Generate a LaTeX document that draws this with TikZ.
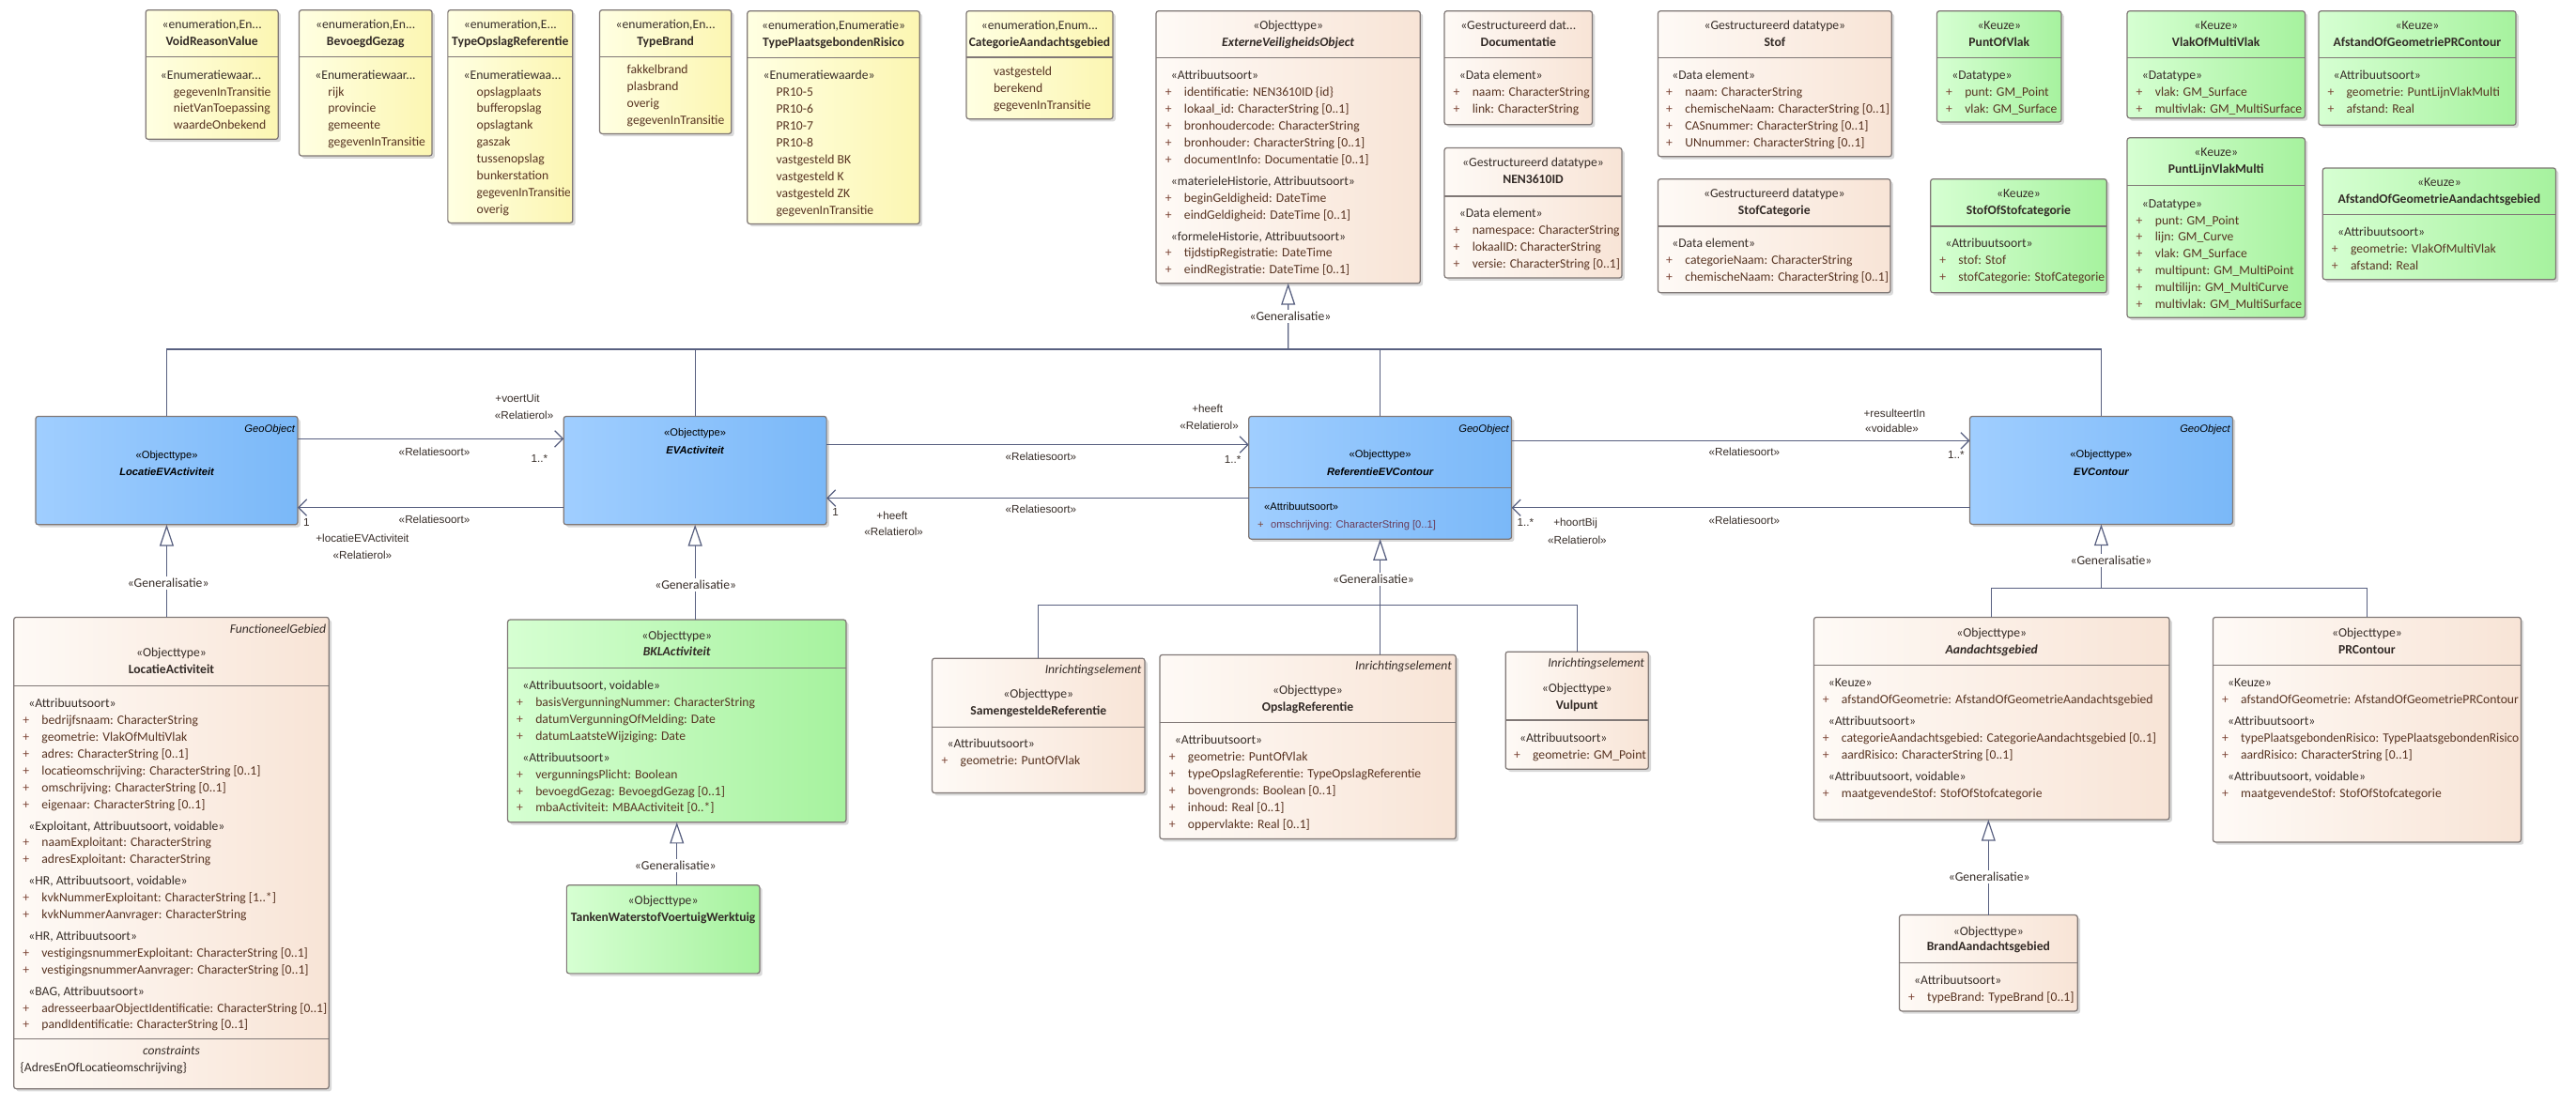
\documentclass[tikz,border=0pt]{standalone}
\usepackage{fontspec}
\usepackage{graphicx}
\setmainfont{Carlito}
\newfontfamily\arialf{Liberation Sans}
\usetikzlibrary{arrows.meta,fit,shadows}

\definecolor{conncol}{RGB}{88,96,128}
\definecolor{bordc}{RGB}{128,120,118}
\definecolor{txtc}{RGB}{88,52,34}
\definecolor{stc}{RGB}{55,45,40}
\definecolor{nmc}{RGB}{50,42,38}
\definecolor{plc}{RGB}{125,70,55}
\definecolor{yelL}{RGB}{255,255,226}
\definecolor{yelR}{RGB}{252,246,178}
\definecolor{peaL}{RGB}{254,250,246}
\definecolor{peaR}{RGB}{248,228,214}
\definecolor{grnL}{RGB}{214,255,210}
\definecolor{grnR}{RGB}{166,242,158}
\definecolor{bluL}{RGB}{160,206,255}
\definecolor{bluR}{RGB}{122,184,248}
\definecolor{battc}{RGB}{105,60,90}

\newcommand\fc{\fontsize{7.8}{9.5}\selectfont}
\newcommand\fa{\arialf\fontsize{6.4}{8}\selectfont}
\newcommand\fl{\arialf\fontsize{6.7}{8}\selectfont}
\newcommand\trunc{...}
\newcommand\fitw[2]{\sbox0{#2}\ifdim\wd0>#1pt\relax\pgfmathsetmacro\fitfac{#1/\wd0}\scalebox{\fitfac}[1]{\usebox0}\else\usebox0\fi}

\tikzset{
 ubox/.style={draw=bordc, line width=0.7pt, rounded corners=1.5pt, inner sep=0pt, outer sep=0pt,
   drop shadow={shadow xshift=1.6pt, shadow yshift=-1.6pt, opacity=0.3}},
 yel/.style={ubox, left color=yelL, right color=yelR},
 pea/.style={ubox, left color=peaL, right color=peaR},
 grn/.style={ubox, left color=grnL, right color=grnR},
 blu/.style={ubox, left color=bluL, right color=bluR},
 sepline/.style={draw=bordc, line width=0.7pt},
 tx/.style={inner sep=0pt, outer sep=0pt, font=\fc, text=txtc},
 st/.style={tx, text=stc},
 nm/.style={tx, text=nmc, font=\fc\bfseries},
 nmi/.style={tx, text=nmc, font=\fc\bfseries\itshape},
 pl/.style={tx, text=plc},
 tagst/.style={tx, text=stc, font=\fc\itshape},
 bst/.style={inner sep=0pt, outer sep=0pt, font=\fa, text=black},
 bnm/.style={inner sep=0pt, outer sep=0pt, font=\fa\bfseries\itshape, text=black},
 lab/.style={inner sep=0pt, font=\fl, text=stc},
 glab/.style={inner sep=1.2pt, font=\fc, text=stc, fill=white},
 conn/.style={draw=conncol, line width=0.7pt},
 assoc/.style={conn, -{Straight Barb[length=5pt, width=10pt]}},
 gen/.style={conn, -{Triangle[length=13pt, width=8.5pt, fill=white]}},
}

\newcommand\ubox[6]{\node[#2, fit={(#3,#4) (#5,#6)}] (#1) {};}
\newcommand\hsep[3]{\draw[sepline] (#1,#3) -- (#2,#3);}
\newcommand\hdr[7]{%
  \node[st, anchor=mid] (#1-s) at (#2,#3) {#5};
  \node[#7, anchor=mid] (#1-n) at (#2,#4) {#6};}
\newcommand\bhdr[5]{%
  \node[bst, anchor=mid] (#1-s) at (#2,#3) {«Objecttype»};
  \node[bnm, anchor=mid] (#1-n) at (#2,#4) {#5};}
\newcommand\tagn[4]{\node[tagst, anchor=mid east] (#1) at (#2,#3) {#4};}
% #1 prefix, #2 x of "+", #3 y of first line, #4 right edge of box, #5 list
\newcommand\comp[5]{%
  \xdef\cy{#3}\gdef\cfirst{1}%
  \foreach \kk/\lntext [count=\ii] in {#5}{%
    \ifnum\cfirst=0
      \pgfmathsetmacro\ny{\cy+10.25}%
      \if S\kk \pgfmathsetmacro\ny{\ny+2.8}\fi
      \xdef\cy{\ny}%
    \fi
    \gdef\cfirst{0}%
    \if S\kk
      \pgfmathsetmacro\avail{#4-#2-3.5-1.2}%
      \node[st, anchor=mid west] (#1-\ii) at (#2+3.5,\cy) {\fitw{\avail}{\lntext}};%
    \else
      \if P\kk
        \node[pl, anchor=mid west] (#1-p\ii) at (#2,\cy) {+};%
      \fi
      \pgfmathsetmacro\avail{#4-#2-11.5-1.2}%
      \node[tx, anchor=mid west] (#1-\ii) at (#2+11.5,\cy) {\fitw{\avail}{\lntext}};%
    \fi
  }%
}

\begin{document}
\begin{tikzpicture}[x=1pt, y=-1pt]
\useasboundingbox (0,0) rectangle (1568,673);

% ---------------- enumerations ----------------
\ubox{e1}{yel}{88.7}{6.1}{169.3}{84.8}
\hsep{88.7}{169.3}{34.7}
\hdr{e1}{129}{15.2}{25.3}{«enumeration,En...}{VoidReasonValue}{nm}
\comp{e1b}{94.2}{45.7}{169.3}{S/«Enumeratiewaar\trunc, V/gegevenInTransitie, V/nietVanToepassing, V/waardeOnbekend}

\ubox{e2}{yel}{182.1}{6.1}{263}{94.9}
\hsep{182.1}{263}{34.7}
\hdr{e2}{222.5}{15.2}{25.3}{«enumeration,En...}{BevoegdGezag}{nm}
\comp{e2b}{188.2}{45.7}{263}{S/«Enumeratiewaar\trunc, V/rijk, V/provincie, V/gemeente, V/gegevenInTransitie}

\ubox{e3}{yel}{272.6}{6.1}{348.6}{135.7}
\hsep{272.6}{348.6}{34.7}
\hdr{e3}{310.6}{15.2}{25.3}{«enumeration,E...}{\fitw{73}{TypeOpslagReferentie}}{nm}
\comp{e3b}{278.7}{45.7}{348.6}{S/«Enumeratiewaa\trunc, V/opslagplaats, V/bufferopslag, V/opslagtank, V/gaszak, V/tussenopslag, V/bunkerstation, V/gegevenInTransitie, V/overig}

\ubox{e4}{yel}{365}{6.1}{445.2}{81.4}
\hsep{365}{445.2}{34.7}
\hdr{e4}{405.1}{15.2}{25.3}{«enumeration,En...}{TypeBrand}{nm}
\comp{e4b}{370.2}{42.7}{445.2}{V/fakkelbrand, V/plasbrand, V/overig, V/gegevenInTransitie}

\ubox{e5}{yel}{454.9}{6.7}{559.8}{136.3}
\hsep{454.9}{559.8}{35.3}
\hdr{e5}{507.35}{15.8}{26.1}{«enumeration,Enumeratie»}{TypePlaatsgebondenRisico}{nm}
\comp{e5b}{461}{46.1}{559.8}{S/«Enumeratiewaarde», V/PR10-5, V/PR10-6, V/PR10-7, V/PR10-8, V/vastgesteld BK, V/vastgesteld K, V/vastgesteld ZK, V/gegevenInTransitie}

\ubox{e6}{yel}{588.2}{6.7}{677.4}{72.4}
\hsep{588.2}{677.4}{34.9}
\hdr{e6}{632.8}{15.6}{25.9}{«enumeration,Enum...}{\fitw{86}{CategorieAandachtsgebied}}{nm}
\comp{e6b}{593.3}{43.5}{677.4}{V/vastgesteld, V/berekend, V/gegevenInTransitie}

% ---------------- top datatypes ----------------
\ubox{evo}{pea}{703.7}{6.7}{864.5}{172.5}
\hsep{703.7}{864.5}{35.3}
\hdr{evo}{784.1}{15.6}{25.9}{«Objecttype»}{ExterneVeiligheidsObject}{nmi}
\comp{evob}{709.3}{46.1}{864.5}{S/«Attribuutsoort», P/identificatie: NEN3610ID \{id\}, P/lokaal\_id: CharacterString [0..1], P/bronhoudercode: CharacterString, P/bronhouder: CharacterString [0..1], P/documentInfo: Documentatie [0..1], S/{«materieleHistorie, Attribuutsoort»}, P/beginGeldigheid: DateTime, P/eindGeldigheid: DateTime [0..1], S/{«formeleHistorie, Attribuutsoort»}, P/tijdstipRegistratie: DateTime, P/eindRegistratie: DateTime [0..1]}

\ubox{doc}{pea}{879.2}{6.7}{969.2}{75.9}
\hsep{879.2}{969.2}{35.3}
\hdr{doc}{924.2}{15.6}{25.9}{«Gestructureerd dat...}{Documentatie}{nm}
\comp{docb}{884.7}{46.1}{969.2}{S/«Data element», P/naam: CharacterString, P/link: CharacterString}

\ubox{nen}{pea}{879.2}{90}{987.2}{169.2}
\hsep{879.2}{987.2}{119.5}
\hdr{nen}{933.2}{99.1}{109.6}{«Gestructureerd datatype»}{NEN3610ID}{nm}
\comp{nenb}{884.7}{130.2}{987.2}{S/«Data element», P/namespace: CharacterString, P/lokaalID: CharacterString, P/versie: CharacterString [0..1]}

\ubox{stof}{pea}{1009.2}{6.7}{1151.4}{95.3}
\hsep{1009.2}{1151.4}{35.3}
\hdr{stof}{1080.3}{15.6}{25.9}{«Gestructureerd datatype»}{Stof}{nm}
\comp{stofb}{1014.2}{46.1}{1151.4}{S/«Data element», P/naam: CharacterString, P/chemischeNaam: CharacterString [0..1], P/CASnummer: CharacterString [0..1], P/UNnummer: CharacterString [0..1]}

\ubox{stofcat}{pea}{1009.2}{109}{1150.7}{178.2}
\hsep{1009.2}{1150.7}{137.8}
\hdr{stofcat}{1080}{118.2}{128.3}{«Gestructureerd datatype»}{StofCategorie}{nm}
\comp{stofcatb}{1014.2}{148.3}{1150.7}{S/«Data element», P/categorieNaam: CharacterString, P/chemischeNaam: CharacterString [0..1]}

\ubox{pov}{grn}{1179}{6.7}{1254.7}{74.3}
\hsep{1179}{1254.7}{35.3}
\hdr{pov}{1216.9}{15.6}{25.9}{«Keuze»}{PuntOfVlak}{nm}
\comp{povb}{1184.5}{46.1}{1254.7}{S/«Datatype», P/punt: GM\_Point, P/vlak: GM\_Surface}

\ubox{sos}{grn}{1175.1}{109}{1282.3}{178.2}
\hsep{1175.1}{1282.3}{137.8}
\hdr{sos}{1228.7}{118.2}{128.3}{«Keuze»}{StofOfStofcategorie}{nm}
\comp{sosb}{1180.6}{148.3}{1282.3}{S/«Attribuutsoort», P/stof: Stof, P/stofCategorie: StofCategorie}

\ubox{vomv}{grn}{1294.8}{6.7}{1403}{71.9}
\hsep{1294.8}{1403}{35.3}
\hdr{vomv}{1348.9}{15.6}{25.9}{«Keuze»}{VlakOfMultiVlak}{nm}
\comp{vomvb}{1300.3}{46.1}{1403}{S/«Datatype», P/vlak: GM\_Surface, P/multivlak: GM\_MultiSurface}

\ubox{plvm}{grn}{1294.8}{83.9}{1403}{193.4}
\hsep{1294.8}{1403}{113}
\hdr{plvm}{1348.9}{93}{103.1}{«Keuze»}{PuntLijnVlakMulti}{nm}
\comp{plvmb}{1300.3}{124}{1403}{S/«Datatype», P/punt: GM\_Point, P/lijn: GM\_Curve, P/vlak: GM\_Surface, P/multipunt: GM\_MultiPoint, P/multilijn: GM\_MultiCurve, P/multivlak: GM\_MultiSurface}

\ubox{aogpr}{grn}{1411.3}{6.7}{1531.4}{76.2}
\hsep{1411.3}{1531.4}{35.3}
\hdr{aogpr}{1471.35}{15.6}{25.9}{«Keuze»}{\fitw{116}{AfstandOfGeometriePRContour}}{nm}
\comp{aogprb}{1416.8}{46.1}{1531.4}{S/«Attribuutsoort», P/geometrie: PuntLijnVlakMulti, P/afstand: Real}

\ubox{aogag}{grn}{1413.8}{102.3}{1555.7}{170.2}
\hsep{1413.8}{1555.7}{130.6}
\hdr{aogag}{1484.75}{111.3}{121.4}{«Keuze»}{\fitw{138}{AfstandOfGeometrieAandachtsgebied}}{nm}
\comp{aogagb}{1419.3}{141.6}{1555.7}{S/«Attribuutsoort», P/geometrie: VlakOfMultiVlak, P/afstand: Real}

% ---------------- blue GeoObjects ----------------
\ubox{locev}{blu}{21.7}{253.5}{181.2}{319.4}
\node[bst, font=\fa\itshape, anchor=mid east] (locev-g) at (179.5,261.1) {GeoObject};
\bhdr{locev}{101.5}{276.7}{287.4}{LocatieEVActiviteit}

\ubox{evact}{blu}{343.1}{253.5}{503.1}{319.4}
\bhdr{evact}{423.1}{263.4}{273.9}{EVActiviteit}

\ubox{refev}{blu}{760.1}{253.5}{920.1}{328.2}
\draw[sepline] (760.1,296.9) -- (920.1,296.9);
\node[bst, font=\fa\itshape, anchor=mid east] (refev-g) at (918.5,260.7) {GeoObject};
\bhdr{refev}{840.1}{276.3}{287}{ReferentieEVContour}
\node[bst, anchor=mid west] (refev-a) at (769.5,308.3) {«Attribuutsoort»};
\node[bst, text=plc, anchor=mid west] (refev-p) at (765.5,319.4) {+};
\node[bst, text=battc, anchor=mid west] (refev-b) at (773.5,319.4) {omschrijving: CharacterString [0..1]};

\ubox{evc}{blu}{1199}{253.5}{1359}{319.2}
\node[bst, font=\fa\itshape, anchor=mid east] (evc-g) at (1357.5,260.7) {GeoObject};
\bhdr{evc}{1279}{276.3}{287}{EVContour}

% ---------------- bottom boxes ----------------
\ubox{locact}{pea}{8.4}{375.8}{200.2}{662.9}
\hsep{8.4}{200.2}{417.5}
\hsep{8.4}{200.2}{632.3}
\tagn{locact-t}{198.5}{383}{FunctioneelGebied}
\hdr{locact}{104.3}{397.7}{407.8}{«Objecttype»}{LocatieActiviteit}{nm}
\comp{locactb}{13.9}{428.4}{200.2}{S/«Attribuutsoort», P/bedrijfsnaam: CharacterString, P/geometrie: VlakOfMultiVlak, P/adres: CharacterString [0..1], P/locatieomschrijving: CharacterString [0..1], P/omschrijving: CharacterString [0..1], P/eigenaar: CharacterString [0..1], S/{«Exploitant, Attribuutsoort, voidable»}, P/naamExploitant: CharacterString, P/adresExploitant: CharacterString, S/{«HR, Attribuutsoort, voidable»}, P/kvkNummerExploitant: CharacterString [1..*], P/kvkNummerAanvrager: CharacterString, S/{«HR, Attribuutsoort»}, P/vestigingsnummerExploitant: CharacterString [0..1], P/vestigingsnummerAanvrager: CharacterString [0..1], S/{«BAG, Attribuutsoort»}, P/adresseerbaarObjectIdentificatie: CharacterString [0..1], P/pandIdentificatie: CharacterString [0..1]}
\node[tagst, anchor=mid] (locact-c) at (104.3,640) {constraints};
\node[tx, text=stc, anchor=mid west] (locact-c2) at (12.4,650.3) {\{AdresEnOfLocatieomschrijving\}};

\ubox{bkl}{grn}{309}{377.3}{515}{500.6}
\hsep{309}{515}{406.5}
\hdr{bkl}{412}{386.9}{397}{«Objecttype»}{BKLActiviteit}{nmi}
\comp{bklb}{314.5}{417.5}{515}{S/{«Attribuutsoort, voidable»}, P/basisVergunningNummer: CharacterString, P/datumVergunningOfMelding: Date, P/datumLaatsteWijziging: Date, S/«Attribuutsoort», P/vergunningsPlicht: Boolean, P/bevoegdGezag: BevoegdGezag [0..1], P/mbaActiviteit: MBAActiviteit [0..*]}

\ubox{tanken}{grn}{344.9}{538.9}{462.4}{592.7}
\hdr{tanken}{403.65}{548.3}{558.4}{«Objecttype»}{\fitw{114}{TankenWaterstofVoertuigWerktuig}}{nm}

\ubox{samen}{pea}{567.4}{400.8}{696.8}{482.8}
\hsep{567.4}{696.8}{442.7}
\tagn{samen-t}{694.8}{407.9}{Inrichtingselement}
\hdr{samen}{632.1}{422.7}{433}{«Objecttype»}{SamengesteldeReferentie}{nm}
\comp{samenb}{573.1}{453}{696.8}{S/«Attribuutsoort», P/geometrie: PuntOfVlak}

\ubox{opslag}{pea}{705.9}{398.7}{886.2}{510.8}
\hsep{705.9}{886.2}{439.9}
\tagn{opslag-t}{883.7}{405.6}{Inrichtingselement}
\hdr{opslag}{796}{420.6}{430.7}{«Objecttype»}{OpslagReferentie}{nm}
\comp{opslagb}{711.6}{450.8}{886.2}{S/«Attribuutsoort», P/geometrie: PuntOfVlak, P/typeOpslagReferentie: TypeOpslagReferentie, P/bovengronds: Boolean [0..1], P/inhoud: Real [0..1], P/oppervlakte: Real [0..1]}

\ubox{vulpunt}{pea}{916.4}{396.8}{1003.4}{468.3}
\hsep{916.4}{1003.4}{438.4}
\tagn{vulpunt-t}{1000.9}{404}{Inrichtingselement}
\hdr{vulpunt}{959.9}{418.9}{429.2}{«Objecttype»}{Vulpunt}{nm}
\comp{vulpuntb}{921.5}{449.4}{1003.4}{S/«Attribuutsoort», P/geometrie: GM\_Point}

\ubox{aandacht}{pea}{1104.1}{375.8}{1320.5}{499}
\hsep{1104.1}{1320.5}{405.2}
\hdr{aandacht}{1212.3}{385.5}{395.5}{«Objecttype»}{Aandachtsgebied}{nmi}
\comp{aandachtb}{1109.4}{416}{1320.5}{S/«Keuze», P/afstandOfGeometrie: AfstandOfGeometrieAandachtsgebied, S/«Attribuutsoort», P/categorieAandachtsgebied: CategorieAandachtsgebied [0..1], P/aardRisico: CharacterString [0..1], S/{«Attribuutsoort, voidable»}, P/maatgevendeStof: StofOfStofcategorie}

\ubox{prc}{pea}{1347}{375.8}{1534.5}{512.7}
\hsep{1347}{1534.5}{405.2}
\hdr{prc}{1440.75}{385.5}{395.5}{«Objecttype»}{PRContour}{nm}
\comp{prcb}{1352.5}{416}{1534.5}{S/«Keuze», P/afstandOfGeometrie: AfstandOfGeometriePRContour, S/«Attribuutsoort», P/typePlaatsgebondenRisico: TypePlaatsgebondenRisico, P/aardRisico: CharacterString [0..1], S/{«Attribuutsoort, voidable»}, P/maatgevendeStof: StofOfStofcategorie}

\ubox{brand}{pea}{1156.1}{557.1}{1264.6}{615.6}
\hsep{1156.1}{1264.6}{586.4}
\hdr{brand}{1210.35}{567}{576.5}{«Objecttype»}{BrandAandachtsgebied}{nm}
\comp{brandb}{1161.6}{597.1}{1264.6}{S/«Attribuutsoort», P/typeBrand: TypeBrand [0..1]}

% ---------------- connectors ----------------
\coordinate (gtop) at (784.1,212.7);
\draw[conn] (locev.north) |- (gtop) -| (evc.north);
\draw[conn] (evact.north) -- (evact.north |- gtop);
\draw[conn] (refev.north) -- (refev.north |- gtop);
\draw[gen] (gtop) -- (evo.south);
\node[glab] (gl1) at (785.4,192.5) {«Generalisatie»};

\coordinate (r1) at (0,267.2);
\coordinate (r2) at (0,309);
\coordinate (r3) at (0,270.7);
\coordinate (r4) at (0,303.3);
\coordinate (r5) at (0,268.3);
\coordinate (r6) at (0,309.1);
\draw[assoc] (locev.east |- r1) -- (evact.west |- r1);
\draw[assoc] (evact.west |- r2) -- (locev.east |- r2);
\draw[assoc] (evact.east |- r3) -- (refev.west |- r3);
\draw[assoc] (refev.west |- r4) -- (evact.east |- r4);
\draw[assoc] (refev.east |- r5) -- (evc.west |- r5);
\draw[assoc] (evc.west |- r6) -- (refev.east |- r6);

\node[lab] (l1a) at (315,242.6) {+voertUit};
\node[lab] (l1b) at (319,252.6) {«Relatierol»};
\node[lab] (l1c) at (264.4,275) {«Relatiesoort»};
\node[lab] (l1d) at (328.4,279.2) {1..*};
\node[lab] (l2a) at (186.6,317.9) {1};
\node[lab] (l2b) at (264.4,316) {«Relatiesoort»};
\node[lab] (l2c) at (220.6,327.8) {+locatieEVActiviteit};
\node[lab] (l2d) at (220.6,337.9) {«Relatierol»};
\node[lab] (l3a) at (735,248.9) {+heeft};
\node[lab] (l3b) at (736,259) {«Relatierol»};
\node[lab] (l3c) at (633.6,277.7) {«Relatiesoort»};
\node[lab] (l3d) at (750.3,279.8) {1..*};
\node[lab] (l4a) at (508.5,312) {1};
\node[lab] (l4b) at (543,313.9) {+heeft};
\node[lab] (l4c) at (544,324) {«Relatierol»};
\node[lab] (l4d) at (633.6,310.1) {«Relatiesoort»};
\node[lab] (l5a) at (1153.2,251.5) {+resulteertIn};
\node[lab] (l5b) at (1151.6,261.1) {«voidable»};
\node[lab] (l5c) at (1061.7,275.4) {«Relatiesoort»};
\node[lab] (l5d) at (1190.6,276.9) {1..*};
\node[lab] (l6a) at (928.5,317.9) {1..*};
\node[lab] (l6b) at (959,318.8) {+hoortBij};
\node[lab] (l6c) at (960,328.9) {«Relatierol»};
\node[lab] (l6d) at (1061.7,316.7) {«Relatiesoort»};

\draw[gen] (locev.south |- locact.north) -- (locev.south);
\node[glab] (gl2) at (102.4,355.1) {«Generalisatie»};
\draw[gen] (evact.south |- bkl.north) -- (evact.south);
\node[glab] (gl3) at (423.4,356.2) {«Generalisatie»};
\draw[gen] (bkl.south |- tanken.north) -- (bkl.south);
\node[glab] (gl4) at (411.2,527) {«Generalisatie»};

\coordinate (g2) at (840.1,368.4);
\draw[gen] (g2) -- (refev.south);
\draw[conn] (samen.north) |- (g2) -| (vulpunt.north);
\draw[conn] (opslag.north -| g2) -- (g2);
\node[glab] (gl5) at (836,352.6) {«Generalisatie»};

\coordinate (g3) at (1279,358.3);
\draw[gen] (g3) -- (evc.south);
\draw[conn] (aandacht.north) |- (g3) -| (prc.north);
\node[glab] (gl6) at (1285,341.1) {«Generalisatie»};

\draw[gen] (brand.north) -- (brand.north |- aandacht.south);
\node[glab] (gl7) at (1210.8,534) {«Generalisatie»};
\end{tikzpicture}
\end{document}
